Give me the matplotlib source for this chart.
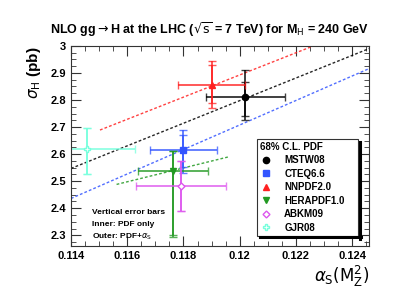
import matplotlib.pyplot as plt
from matplotlib.ticker import MultipleLocator
from matplotlib.lines import Line2D

plt.rcParams['font.family'] = ['Liberation Sans', 'DejaVu Sans']

# PDF sets: central alpha_S, sigma_H and uncertainties
pdf_names = ["MSTW08", "CTEQ6.6", "NNPDF2.0", "HERAPDF1.0", "ABKM09", "GJR08"]
alphas = [0.1202, 0.1180, 0.1190, 0.11763, 0.11792, 0.11456]
alphas_err = [0.0014, 0.0012, 0.0012, 0.00124, 0.0016, 0.0017]
sigma = [2.810, 2.615, 2.856, 2.538, 2.483, 2.620]
inner_lo = [2.741, 2.553, 2.790, 2.300, 2.389, 2.525]
inner_hi = [2.868, 2.670, 2.930, 2.612, 2.574, 2.695]
outer_lo = [2.726, 2.532, 2.770, 2.294, 2.389, 2.525]
outer_hi = [2.911, 2.690, 2.944, 2.612, 2.574, 2.695]
colors = ["black", "#3355ff", "#ff2020", "#229922", "#dd55ee", "#77ffdd"]
markers = ["o", "s", "^", "v", "D", "P"]
filled = [True, True, True, True, False, False]

# alpha_S dependence of each PDF set (dashed lines)
line_x = {
    "MSTW08": [0.1140, 0.1246],
    "CTEQ6.6": [0.1140, 0.1246],
    "NNPDF2.0": [0.11503, 0.1235],
    "HERAPDF1.0": [0.11562, 0.11961],
}
line_y = {
    "MSTW08": [2.547, 2.990],
    "CTEQ6.6": [2.436, 2.916],
    "NNPDF2.0": [2.689, 3.036],
    "HERAPDF1.0": [2.488, 2.590],
}

fig = plt.figure(figsize=(3.99, 3.08), dpi=100)
ax = fig.add_axes([0.178, 0.201, 0.747, 0.650])

for name in line_x:
    c = colors[pdf_names.index(name)]
    ax.plot(line_x[name], line_y[name], color=c, lw=1.0, ls=(0, (2, 1.5)), alpha=0.85)

for i, name in enumerate(pdf_names):
    c = colors[i]
    x, y = alphas[i], sigma[i]
    # horizontal alpha_S error
    ax.errorbar(x, y, xerr=alphas_err[i], fmt='none', ecolor=c, elinewidth=1.4,
                capsize=3, capthick=1.0, alpha=0.75)
    # outer: PDF + alpha_S
    ax.errorbar(x, y, yerr=[[y - outer_lo[i]], [outer_hi[i] - y]], fmt='none',
                ecolor=c, elinewidth=1.4, capsize=3, capthick=1.0, alpha=0.75)
    # inner: PDF only
    ax.errorbar(x, y, yerr=[[y - inner_lo[i]], [inner_hi[i] - y]], fmt='none',
                ecolor=c, elinewidth=1.4, capsize=3, capthick=1.0, alpha=0.75)
    ms = 3.5 if markers[i] == "D" else 4.5
    ax.plot(x, y, marker=markers[i], ms=ms, ls='none',
            mfc=c if filled[i] else 'white', mec=c, mew=1.0, label=name)

ax.set_xlim(0.114, 0.1246)
ax.set_ylim(2.26, 3.0)
ax.xaxis.set_major_locator(MultipleLocator(0.002))
ax.xaxis.set_minor_locator(MultipleLocator(0.0005))
ax.yaxis.set_major_locator(MultipleLocator(0.1))
ax.yaxis.set_minor_locator(MultipleLocator(0.025))
ax.tick_params(which='both', direction='in', top=True, right=True, color='#333333')
ax.tick_params(which='major', length=7, labelsize=8)
ax.tick_params(which='minor', length=3.5)
ax.set_xticks([0.114, 0.116, 0.118, 0.120, 0.122, 0.124])
ax.set_xticklabels(["0.114", "0.116", "0.118", "0.12", "0.122", "0.124"], fontweight='bold')
ax.set_yticks([2.3, 2.4, 2.5, 2.6, 2.7, 2.8, 2.9, 3.0])
ax.set_yticklabels(["2.3", "2.4", "2.5", "2.6", "2.7", "2.8", "2.9", "3"], fontweight='bold')
for s in ax.spines.values():
    s.set_color('#333333')

fig.text(0.524, 0.905, r"NLO gg$\rightarrow$H at the LHC ($\sqrt{\rm s}$ = 7 TeV) for M$_{\rm H}$ = 240 GeV",
         ha='center', va='center', fontsize=9, fontweight='bold')
fig.text(0.085, 0.85, r"$\sigma_{\rm H}$ (pb)", rotation=90, ha='center', va='top',
         fontsize=11, fontweight='bold')
fig.text(0.925, 0.104, r"$\alpha_{\rm S}({\rm M}_{\rm Z}^{2})$", ha='right', va='center',
         fontsize=12)

ax.text(0.11474, 2.386, "Vertical error bars", fontsize=6, fontweight='bold', va='center')
ax.text(0.11474, 2.338, "Inner: PDF only", fontsize=6, fontweight='bold', va='center')
ax.text(0.11474, 2.293, r"Outer: PDF+$\alpha_{\rm S}$", fontsize=6, fontweight='bold', va='center')

leg = ax.legend(loc='upper left', bbox_to_anchor=(0.624, 0.535, 0.339, 0.0), mode='expand',
                title="68% C.L. PDF", frameon=True, fancybox=False, shadow=False,
                fontsize=7, title_fontsize=7, handletextpad=1.3, borderpad=0.3,
                labelspacing=0.36, handlelength=1.2, borderaxespad=0.0)
leg.get_frame().set_edgecolor('black')
leg.get_frame().set_linewidth(0.8)
leg._legend_box.align = "left"
leg.get_title().set_fontweight('bold')
for t in leg.get_texts():
    t.set_fontweight('bold')

# ROOT style shadow on the right and bottom of the legend box
fig.canvas.draw()
bb = leg.get_window_extent().transformed(fig.transFigure.inverted())
dx, dy = 3.0 / 399, 3.0 / 308
fig.add_artist(Line2D([bb.x1 + dx / 2, bb.x1 + dx / 2], [bb.y0 - dy, bb.y1 - dy],
                      color='black', lw=2.2))
fig.add_artist(Line2D([bb.x0 + dx, bb.x1 + dx], [bb.y0 - dy / 2, bb.y0 - dy / 2],
                      color='black', lw=2.2))

fig.savefig("out.png", dpi=100)
